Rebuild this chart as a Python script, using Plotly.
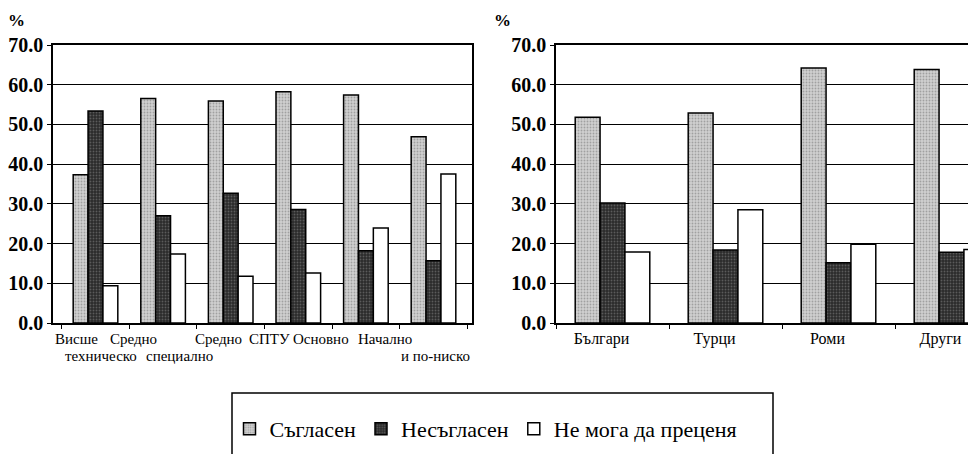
import plotly.graph_objects as go

# ---- data ----
series_names = ["Съгласен", "Несъгласен", "Не мога да преценя"]

edu_categories = ["Висше", "Средно техническо", "Средно специално", "СПТУ", "Основно", "Начално и по-ниско"]
edu_label_line1 = ["Висше", "Средно", "Средно", "СПТУ", "Основно", "Начално"]
edu_label_line2 = ["", "техническо", "специално", "", "", "и по-ниско"]
edu_agree = [37.3, 56.5, 55.9, 58.2, 57.4, 46.9]
edu_disagree = [53.4, 27.0, 32.7, 28.6, 18.2, 15.7]
edu_cannot = [9.4, 17.4, 11.8, 12.6, 23.9, 37.5]

eth_categories = ["Българи", "Турци", "Роми", "Други"]
eth_agree = [51.8, 52.9, 64.2, 63.8]
eth_disagree = [30.2, 18.4, 15.2, 17.8]
eth_cannot = [17.9, 28.5, 19.8, 18.5]

y_ticks = [0, 10, 20, 30, 40, 50, 60, 70]

# ---- styles / layout (pixels) ----
FONT = "Liberation Serif"
W, H = 968, 454
CAT_SIZE = 15
line1_shift = [-19, -30, -12, -29, -45, -49]
line2_shift = [0, -62, -51, 0, 0, 2]

styles = [
    dict(color="#d0d0d0", pattern=dict(shape=".", fgcolor="#707070", bgcolor="#d0d0d0", size=3, solidity=0.3)),
    dict(color="#2a2a2a", pattern=dict(shape=".", fgcolor="#8c8c8c", bgcolor="#2a2a2a", size=3, solidity=0.3)),
    dict(color="#ffffff", pattern=dict(shape="")),
]

fig = go.Figure()

left_sets = [edu_agree, edu_disagree, edu_cannot]
right_sets = [eth_agree, eth_disagree, eth_cannot]
for i, name in enumerate(series_names):
    fig.add_trace(go.Bar(
        x=edu_categories, y=left_sets[i], name=name, xaxis="x", yaxis="y",
        marker=dict(color=styles[i]["color"], pattern=styles[i]["pattern"],
                    line=dict(color="black", width=1.5)),
        showlegend=True, legendgroup=name))
for i, name in enumerate(series_names):
    fig.add_trace(go.Bar(
        x=eth_categories, y=right_sets[i], name=name, xaxis="x2", yaxis="y2",
        marker=dict(color=styles[i]["color"], pattern=styles[i]["pattern"],
                    line=dict(color="black", width=1.5)),
        showlegend=False, legendgroup=name))

ydom = [(H - 323) / H, (H - 45) / H]
yaxis_common = dict(range=[0, 70], tickvals=y_ticks, ticktext=[f"<b>{v:.1f}</b>" for v in y_ticks],
                    showgrid=True, gridcolor="black", gridwidth=1,
                    showline=True, linecolor="black", linewidth=1.5,
                    ticks="outside", ticklen=4, tickcolor="black",
                    tickfont=dict(family=FONT, size=20, color="black"),
                    zeroline=False, domain=ydom, fixedrange=True, automargin=False)
xaxis_common = dict(showline=True, linecolor="black", linewidth=1.5, mirror=True,
                    ticks="outside", ticklen=4, tickcolor="black", tickson="boundaries",
                    tickfont=dict(family=FONT, size=CAT_SIZE + 1, color="black"), tickangle=0,
                    showgrid=False, fixedrange=True, automargin=False)

annotations = [
    dict(text="<b>%</b>", xref="paper", yref="paper", x=16 / W, y=(H - 20) / H,
         xanchor="center", yanchor="middle",
         showarrow=False, font=dict(family=FONT, size=17, color="black")),
    dict(text="<b>%</b>", xref="paper", yref="paper", x=503 / W, y=(H - 20) / H,
         xanchor="center", yanchor="middle",
         showarrow=False, font=dict(family=FONT, size=17, color="black")),
]
for cat, l1, l2, s1, s2 in zip(edu_categories, edu_label_line1, edu_label_line2, line1_shift, line2_shift):
    annotations.append(dict(text=l1, xref="x", yref="paper", x=cat, y=(H - 329) / H,
                            yanchor="top", xanchor="center", xshift=s1, showarrow=False,
                            font=dict(family=FONT, size=CAT_SIZE, color="black")))
    if l2:
        annotations.append(dict(text=l2, xref="x", yref="paper", x=cat, y=(H - 346) / H,
                                yanchor="top", xanchor="center", xshift=s2, showarrow=False,
                                font=dict(family=FONT, size=CAT_SIZE, color="black")))

fig.update_layout(
    width=W, height=H,
    margin=dict(l=0, r=0, t=0, b=0),
    paper_bgcolor="white", plot_bgcolor="white",
    barmode="group", bargap=0.34, bargroupgap=0,
    font=dict(family=FONT, color="black"),
    xaxis=dict(domain=[53 / W, 472 / W], anchor="y", showticklabels=False, **xaxis_common),
    yaxis=dict(anchor="x", mirror=True, **yaxis_common),
    xaxis2=dict(domain=[556 / W, 1.0], anchor="y2", range=[-0.5, 3.146], ticklabelshift=-11,
                **xaxis_common),
    yaxis2=dict(anchor="x2", mirror=False, **yaxis_common),
    legend=dict(orientation="h", x=486 / W, xanchor="center", y=(H - 408) / H, yanchor="top",
                font=dict(family=FONT, size=22, color="black"),
                bgcolor="rgba(0,0,0,0)", borderwidth=0, itemwidth=30,
                traceorder="normal"),
    showlegend=True,
    shapes=[dict(type="rect", xref="paper", yref="paper",
                 x0=232 / W, x1=773 / W, y0=-0.05, y1=(H - 393) / H,
                 line=dict(color="black", width=1.5), fillcolor="rgba(0,0,0,0)")],
    annotations=annotations,
)

fig.write_html("out.html", config={"displayModeBar": False},
               post_script="document.body.style.margin='0px';document.body.style.overflow='hidden';")
